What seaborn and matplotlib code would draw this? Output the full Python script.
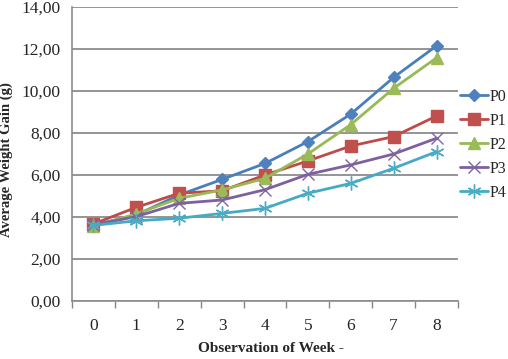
import numpy as np
import matplotlib.pyplot as plt
import pandas as pd
import seaborn as sns
from matplotlib.ticker import FixedLocator, FuncFormatter

# weeks of observation
weeks = [0, 1, 2, 3, 4, 5, 6, 7, 8]

# average weight gain (g) per treatment
p0 = [3.62, 4.10, 5.05, 5.79, 6.55, 7.59, 8.90, 10.65, 12.15]
p1 = [3.67, 4.46, 5.13, 5.25, 6.00, 6.67, 7.38, 7.83, 8.81]
p2 = [3.55, 4.15, 4.89, 5.29, 5.84, 7.00, 8.40, 10.13, 11.58]
p3 = [3.62, 4.02, 4.65, 4.81, 5.30, 6.03, 6.48, 7.00, 7.75]
p4 = [3.60, 3.82, 3.94, 4.17, 4.41, 5.13, 5.60, 6.32, 7.11]

treatments = ['P0', 'P1', 'P2', 'P3', 'P4']
yticks = [0, 2, 4, 6, 8, 10, 12, 14]

# long format for seaborn
df = pd.DataFrame({
    'week': weeks * 5,
    'gain': p0 + p1 + p2 + p3 + p4,
    'treatment': [t for t in treatments for _ in weeks],
})

sns.set_style('white')
plt.rcParams['font.family'] = ['Liberation Serif', 'DejaVu Serif']

line_cols = ['#4A7EBB', '#BE4B48', '#98B954', '#7D60A0', '#46AAC5']
mark_cols = ['#4F81BD', '#C0504D', '#9BBB59', '#8064A2', '#4BACC6']
markers = {'P0': 'D', 'P1': 's', 'P2': '^', 'P3': 'x', 'P4': (6, 2, 0)}
msizes = {'P0': 6, 'P1': 8, 'P2': 8, 'P3': 9, 'P4': 10}

fig = plt.figure(figsize=(5.08, 3.59), dpi=100)
ax = fig.add_axes([0.1417, 0.1616, 0.9016 - 0.1417, 0.9805 - 0.1616])

for t, lc, mc in zip(treatments, line_cols, mark_cols):
    sub = df[df['treatment'] == t]
    sns.lineplot(data=sub, x='week', y='gain', ax=ax, color=lc, linewidth=2.0,
                 marker=markers[t], markersize=msizes[t], markerfacecolor=mc,
                 markeredgecolor=mc, markeredgewidth=1.0, label=t)

ax.set_xlim(-0.5, 8.5)
ax.set_ylim(0, 14)
ax.set_yticks(yticks)
ax.yaxis.set_major_formatter(FuncFormatter(lambda v, p: f'{v:.2f}'.replace('.', ',')))
ax.set_xticks(weeks)
ax.xaxis.set_minor_locator(FixedLocator(np.arange(-0.5, 9, 1)))
ax.tick_params(axis='x', which='major', length=0, pad=12, labelsize=12.5)
ax.tick_params(axis='x', which='minor', length=5, color='#868686', direction='out', width=1)
ax.tick_params(axis='y', which='major', length=5, color='#868686', direction='out', labelsize=12.5, pad=3)
ax.tick_params(axis='x', which='both', bottom=True)

ax.grid(axis='y', color='#8C8C8C', linewidth=1.3)
ax.set_axisbelow(True)
for s in ['top', 'right']:
    ax.spines[s].set_visible(False)
for s in ['left', 'bottom']:
    ax.spines[s].set_color('#8C8C8C')
    ax.spines[s].set_linewidth(1.2)

ax.set_xlabel('Observation of Week -', fontsize=11, fontweight='bold')
ax.xaxis.set_label_coords(0.516, -0.140)
ax.set_ylabel('Average Weight Gain (g)', fontsize=10.5, fontweight='bold')
ax.yaxis.set_label_coords(-0.153, 0.48)

ax.legend(loc='center left', bbox_to_anchor=(0.905, 0.596), bbox_transform=fig.transFigure,
          frameon=False, fontsize=11.5, handlelength=1.8, handletextpad=0.05,
          labelspacing=0.5, borderaxespad=0, borderpad=0)

fig.savefig('out.png', dpi=100)
